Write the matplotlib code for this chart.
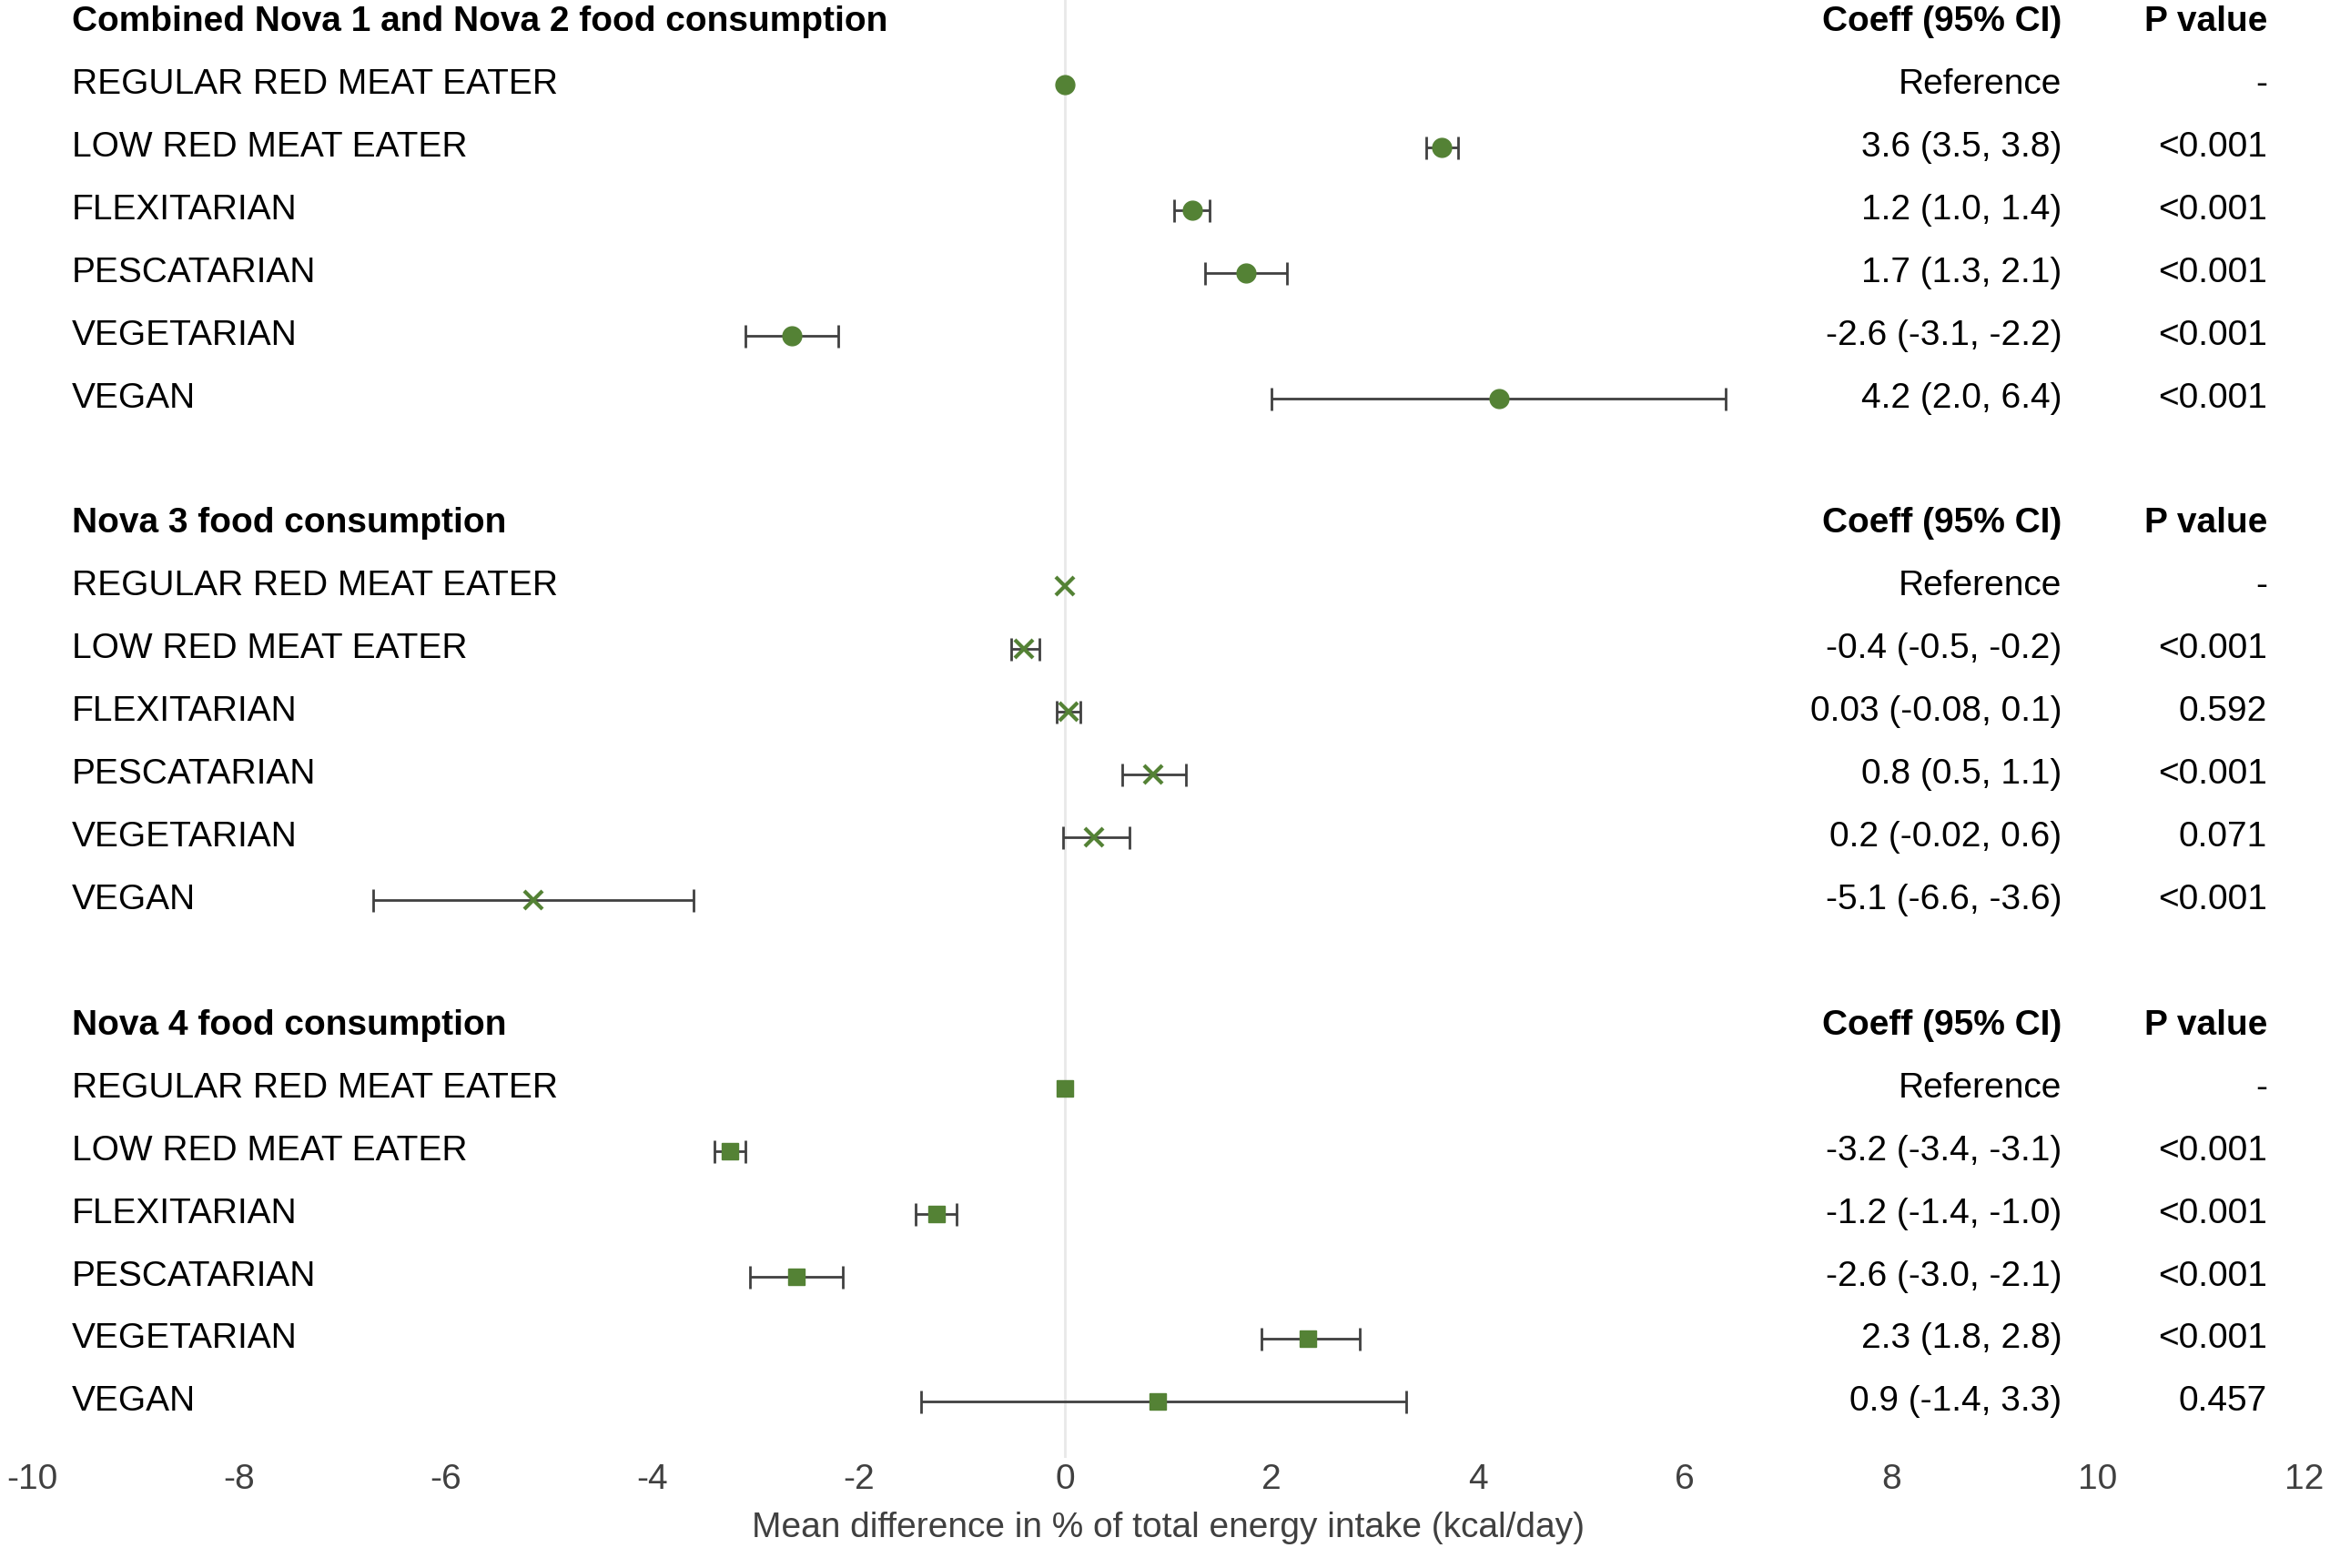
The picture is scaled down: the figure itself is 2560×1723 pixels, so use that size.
import matplotlib.pyplot as plt
import numpy as np

plt.rcParams['font.family'] = ['Liberation Sans', 'DejaVu Sans']
plt.rcParams['axes.unicode_minus'] = False

headers = ['Combined Nova 1 and Nova 2 food consumption',
           'Nova 3 food consumption',
           'Nova 4 food consumption']
groups = ['REGULAR RED MEAT EATER', 'LOW RED MEAT EATER', 'FLEXITARIAN',
          'PESCATARIAN', 'VEGETARIAN', 'VEGAN']

coef = [[0, 3.65, 1.23, 1.75, -2.65, 4.2],
        [0, -0.4, 0.03, 0.85, 0.28, -5.15],
        [0, -3.25, -1.25, -2.6, 2.35, 0.9]]
lo = [[0, 3.5, 1.05, 1.35, -3.1, 2.0],
      [0, -0.52, -0.08, 0.55, -0.02, -6.7],
      [0, -3.4, -1.45, -3.05, 1.9, -1.4]]
hi = [[0, 3.8, 1.4, 2.15, -2.2, 6.4],
      [0, -0.25, 0.15, 1.17, 0.62, -3.6],
      [0, -3.1, -1.05, -2.15, 2.85, 3.3]]
ci_text = [['Reference', '3.6 (3.5, 3.8)', '1.2 (1.0, 1.4)', '1.7 (1.3, 2.1)',
            '-2.6 (-3.1, -2.2)', '4.2 (2.0, 6.4)'],
           ['Reference', '-0.4 (-0.5, -0.2)', '0.03 (-0.08, 0.1)', '0.8 (0.5, 1.1)',
            '0.2 (-0.02, 0.6)', '-5.1 (-6.6, -3.6)'],
           ['Reference', '-3.2 (-3.4, -3.1)', '-1.2 (-1.4, -1.0)', '-2.6 (-3.0, -2.1)',
            '2.3 (1.8, 2.8)', '0.9 (-1.4, 3.3)']]
p_text = [['-', '<0.001', '<0.001', '<0.001', '<0.001', '<0.001'],
          ['-', '<0.001', '0.592', '<0.001', '0.071', '<0.001'],
          ['-', '<0.001', '<0.001', '<0.001', '<0.001', '0.457']]
markers = ['o', 'x', 's']
msizes = [15, 15, 13]

green = '#548235'
fs = 28

fig = plt.figure(figsize=(25.6, 17.23), dpi=100)
ax = fig.add_axes([0.014, 0.07, 0.975, 0.93])
ax.axvline(0, color='#e8e8e8', lw=2, zorder=0)

for g in range(3):
    base = g * 8
    ax.text(-9.62, base, headers[g], fontsize=fs, fontweight='bold', va='center')
    ax.text(9.65, base, 'Coeff (95% CI)', fontsize=fs, fontweight='bold', va='center', ha='right')
    ax.text(11.64, base, 'P value', fontsize=fs, fontweight='bold', va='center', ha='right')
    for i, name in enumerate(groups):
        y = base + 1 + i
        ax.text(-9.62, y, name, fontsize=fs, va='center')
        ax.text(9.65, y, ci_text[g][i], fontsize=fs, va='center', ha='right')
        ax.text(11.64, y, p_text[g][i], fontsize=fs, va='center', ha='right')
        c = coef[g][i]
        if i > 0:
            ax.errorbar(c, y, xerr=[[c - lo[g][i]], [hi[g][i] - c]], fmt='none',
                        ecolor='#404040', elinewidth=2, capsize=9, capthick=2, zorder=2)
        ax.plot(c, y, marker=markers[g], color=green, ms=msizes[g],
                mew=3 if markers[g] == 'x' else 1, linestyle='none', zorder=3)

ax.set_xlim(-10, 12)
ax.set_ylim(22.9, -0.35)
ax.set_xticks(np.arange(-10, 13, 2))
ax.set_yticks([])
ax.tick_params(axis='x', length=0, labelsize=fs, colors='#404040', pad=4)
for s in ax.spines.values():
    s.set_visible(False)
ax.set_xlabel('Mean difference in % of total energy intake (kcal/day)', fontsize=fs,
              color='#404040', labelpad=12)

fig.savefig('out.png', dpi=100)
